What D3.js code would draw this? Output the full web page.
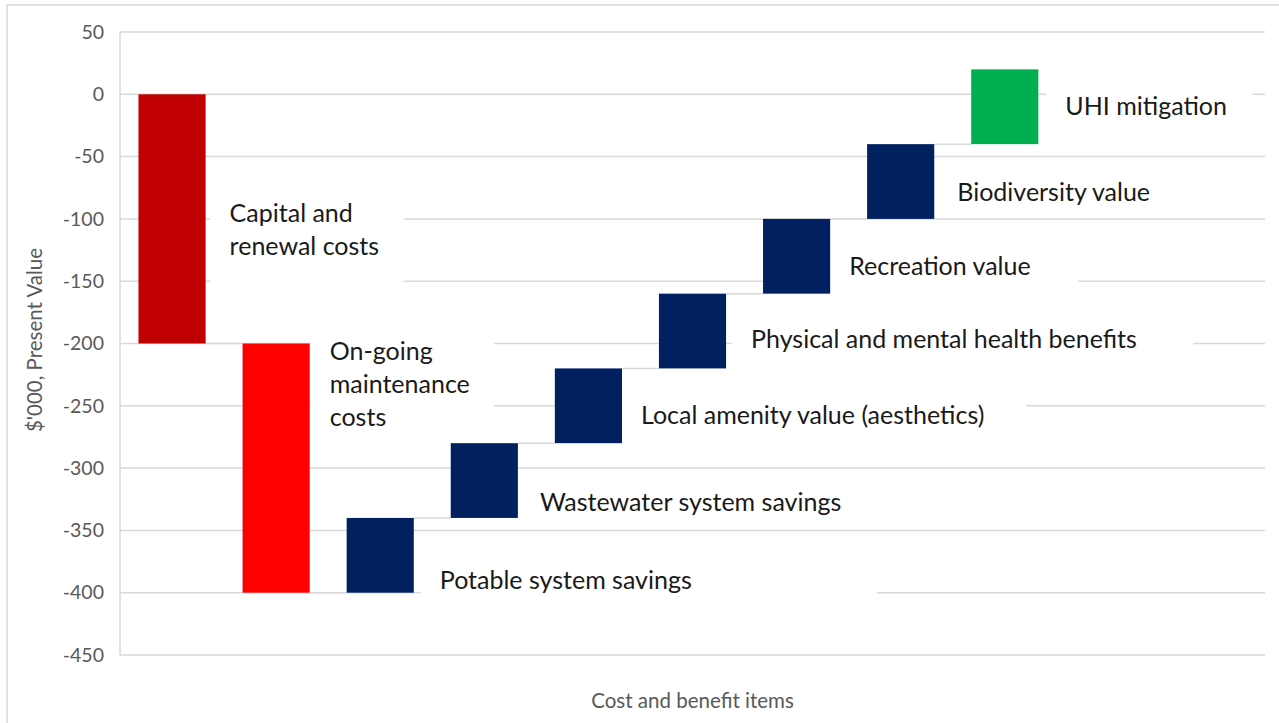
<!DOCTYPE html>
<html><head><meta charset="utf-8">
<script src="https://cdn.jsdelivr.net/npm/d3@7"></script>
<style>body{margin:0;background:#fff}</style>
</head><body>
<svg id="c" width="1279" height="723"></svg>
<script>
// ---- data ----
const categories = ["Capital and renewal costs", "On-going maintenance costs", "Potable system savings",
  "Wastewater system savings", "Local amenity value (aesthetics)", "Physical and mental health benefits",
  "Recreation value", "Biodiversity value", "UHI mitigation"];
const labelLines = [["Capital and", "renewal costs"], ["On-going", "maintenance", "costs"], ["Potable system savings"],
  ["Wastewater system savings"], ["Local amenity value (aesthetics)"], ["Physical and mental health benefits"],
  ["Recreation value"], ["Biodiversity value"], ["UHI mitigation"]];
const changes = [-200, -200, 60, 60, 60, 60, 60, 60, 60];
const barKind = ["capital", "maintenance", "benefit", "benefit", "benefit", "benefit", "benefit", "benefit", "uhi"];
const yTicks = [50, 0, -50, -100, -150, -200, -250, -300, -350, -400, -450];
const slotCount = 11; // category slots on the axis (last two empty)

// ---- layout / style ----
const colors = {capital: "#C00000", maintenance: "#FF0000", benefit: "#002060", uhi: "#00B050"};
const plot = {left: 120, right: 1265, top: 32, bottom: 655};
const labelDx = [24, 20, 26, 22, 19, 25, 19, 23, 27];
const labelDy = [10, -85, 24, 20, 8, 7, 9, 9, -2];
const boxWidth = [193, 183, 456, 0, 404, 461, 248, 0, 206];
const boxHalfH = [60, 62, 24, 24, 24, 24, 24, 24, 24];
const lineH = 33;
const gridColor = "#D9D9D9";

const svg = d3.select("#c");

// outer chart border (left & top visible)
svg.append("line").attr("x1", 7).attr("x2", 7).attr("y1", 5).attr("y2", 723).attr("stroke", gridColor).attr("stroke-width", 1.5);
svg.append("line").attr("x1", 7).attr("x2", 1279).attr("y1", 5).attr("y2", 5).attr("stroke", gridColor).attr("stroke-width", 1.5);

// cumulative
let run = 0;
const bars = changes.map((c, i) => { const s = run; run += c; return {i, name: categories[i], start: s, end: run, kind: barKind[i], lines: labelLines[i]}; });

const x = d3.scaleBand().domain(d3.range(slotCount)).range([plot.left, plot.right]).paddingInner(0.355).paddingOuter(0.355 / 2);
const y = d3.scaleLinear().domain([-450, 50]).range([plot.bottom, plot.top]);

// gridlines
svg.append("g").selectAll("line").data(yTicks).join("line")
  .attr("x1", plot.left).attr("x2", plot.right)
  .attr("y1", d => y(d)).attr("y2", d => y(d))
  .attr("stroke", gridColor).attr("stroke-width", 1.5);
// left axis line
svg.append("line").attr("x1", plot.left).attr("x2", plot.left).attr("y1", plot.top).attr("y2", plot.bottom)
  .attr("stroke", gridColor).attr("stroke-width", 1.5);

// y axis labels
const yAxis = d3.axisLeft(y).tickValues(yTicks).tickSize(0).tickPadding(16).tickFormat(d => String(d));
const ya = svg.append("g").attr("transform", `translate(${plot.left},0)`).call(yAxis);
ya.select(".domain").remove();
ya.selectAll("text").style("font-family", "Lato").style("font-size", "19.5px").attr("fill", "#595959");

// measuring helper
const measure = (txt, size) => {
  const t = svg.append("text").style("font-family", "Lato").style("font-size", size + "px").text(txt);
  const w = t.node().getComputedTextLength(); t.remove(); return w;
};

// label boxes (white, hide gridlines)
const labG = svg.append("g");
bars.forEach((b, i) => {
  const bx = x(i) + x.bandwidth();
  const tx = bx + labelDx[i];
  const cy = (y(b.start) + y(b.end)) / 2 + labelDy[i];
  const tw = d3.max(b.lines, l => measure(l, 25));
  const w = boxWidth[i] || (tw + 40);
  labG.append("rect").attr("x", tx - 19).attr("y", cy - boxHalfH[i]).attr("width", w).attr("height", boxHalfH[i] * 2).attr("fill", "#fff");
});

// connectors
svg.append("g").selectAll("line").data(bars.slice(0, -1)).join("line")
  .attr("x1", d => x(d.i) + x.bandwidth()).attr("x2", d => x(d.i + 1))
  .attr("y1", d => y(d.end)).attr("y2", d => y(d.end))
  .attr("stroke", gridColor).attr("stroke-width", 1.5);

// bars
svg.append("g").selectAll("rect").data(bars).join("rect")
  .attr("x", d => x(d.i)).attr("width", x.bandwidth())
  .attr("y", d => y(Math.max(d.start, d.end)))
  .attr("height", d => Math.abs(y(d.start) - y(d.end)))
  .attr("fill", d => colors[d.kind]);

// label text
bars.forEach((b, i) => {
  const bx = x(i) + x.bandwidth();
  const tx = bx + labelDx[i];
  const cy = (y(b.start) + y(b.end)) / 2 + labelDy[i];
  const n = b.lines.length;
  const t = labG.append("text").attr("x", tx).style("font-family", "Lato").style("font-size", "25px").attr("fill", "#1a1a1a");
  b.lines.forEach((l, k) => {
    t.append("tspan").attr("x", tx).attr("y", cy + (k - (n - 1) / 2) * lineH).attr("dominant-baseline", "central").text(l);
  });
});

// axis titles
svg.append("text").attr("x", (plot.left + plot.right) / 2).attr("y", 700).attr("text-anchor", "middle")
  .attr("dominant-baseline", "central").style("font-family", "Lato").style("font-size", "20.5px").attr("fill", "#595959")
  .text("Cost and benefit items");
svg.append("text").attr("transform", "translate(34,340) rotate(-90)").attr("text-anchor", "middle")
  .attr("dominant-baseline", "central").style("font-family", "Lato").style("font-size", "20.5px").attr("fill", "#595959")
  .text("$'000, Present Value");
</script></body></html>
